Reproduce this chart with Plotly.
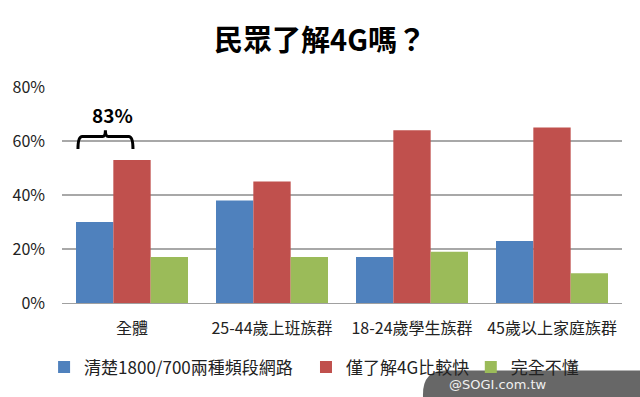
import plotly.graph_objects as go

categories = ["全體", "25-44歲上班族群", "18-24歲學生族群", "45歲以上家庭族群"]
series_names = ["清楚1800/700兩種頻段網路", "僅了解4G比較快", "完全不懂"]
s_clear = [0.30, 0.38, 0.17, 0.23]
s_fast = [0.53, 0.45, 0.64, 0.65]
s_none = [0.17, 0.17, 0.19, 0.11]
colors = ["#4F81BD", "#C0504D", "#9BBB59"]
yticks = [0, 0.2, 0.4, 0.6, 0.8]
ytick_labels = ["0%", "20%", "40%", "60%", "80%"]

FONT = "Noto Sans CJK TC"
legend_ids = ["legend", "legend2", "legend3"]
legend_x = [-0.032, 0.4357, 0.730]

fig = go.Figure()
for name, vals, c, lg in zip(series_names, [s_clear, s_fast, s_none], colors, legend_ids):
    fig.add_trace(go.Bar(x=categories, y=vals, name=name, legend=lg,
                         marker=dict(color=c, line=dict(width=0))))

# brace annotation over first group
bx0, bx1, bxm = -0.386, 0.007, -0.19
yb, yt, ytip = 0.57, 0.617, 0.64
path = (f"M {bx0},{yb} Q {bx0},{yt} {bx0+0.03},{yt} L {bxm-0.02},{yt} "
        f"Q {bxm},{yt} {bxm},{ytip} Q {bxm},{yt} {bxm+0.02},{yt} "
        f"L {bx1-0.03},{yt} Q {bx1},{yt} {bx1},{yb}")
fig.add_shape(type="path", path=path, xref="x", yref="y", line=dict(color="black", width=3))
fig.add_annotation(x=-0.139, y=0.700, xref="x", yref="y", text="<b>83%</b>", showarrow=False,
                   font=dict(family=FONT, size=19, color="black"))

# watermark box
fig.add_shape(type="path", xref="paper", yref="paper",
              path="M 0.6446,-0.46 L 0.6446,-0.3126 Q 0.6446,-0.3126 0.6446,-0.3126 Z",
              line=dict(width=0))
fig.add_shape(type="path", xref="paper", yref="paper",
              path="M 0.6446,-0.46 L 0.6446,-0.4230 Q 0.6446,-0.3126 0.6839,-0.3126 L 1.05,-0.3126 L 1.05,-0.46 Z",
              fillcolor="rgba(95,95,95,0.95)", line=dict(width=0), layer="above")
fig.add_annotation(x=0.7786, y=-0.377, xref="paper", yref="paper", text="@SOGI.com.tw", showarrow=False,
                   font=dict(family="DejaVu Sans", size=13, color="#f0f0f0"), xanchor="center", yanchor="middle")

layout_legends = {}
for lg, lx in zip(legend_ids, legend_x):
    layout_legends[lg] = dict(orientation="h", x=lx, xanchor="left", y=-0.2989, yanchor="middle",
                              font=dict(family=FONT, size=17, color="#222"), itemwidth=30,
                              bgcolor="rgba(0,0,0,0)")

fig.update_layout(
    width=640, height=397,
    margin=dict(l=62, r=18, t=87, b=92),
    paper_bgcolor="white", plot_bgcolor="white",
    bargap=0.2, bargroupgap=0,
    title=dict(text="<b>民眾了解4G嗎？</b>", x=0.5, xanchor="center", y=0.898, yanchor="middle",
               font=dict(family=FONT, size=29, color="black")),
    font=dict(family=FONT, color="#222"),
    showlegend=True,
    **layout_legends,
)
fig.update_xaxes(showline=True, linecolor="#A0A0A0", linewidth=1, ticks="",
                 tickfont=dict(size=16, color="#222"), ticklabelstandoff=11)
fig.update_yaxes(range=[0, 0.8], tickvals=yticks, ticktext=ytick_labels, showgrid=True, gridcolor="#A8A8A8",
                 gridwidth=1.5, zeroline=False, tickfont=dict(size=16, color="#222"), ticklabelstandoff=16)

fig.write_html("out.html")
